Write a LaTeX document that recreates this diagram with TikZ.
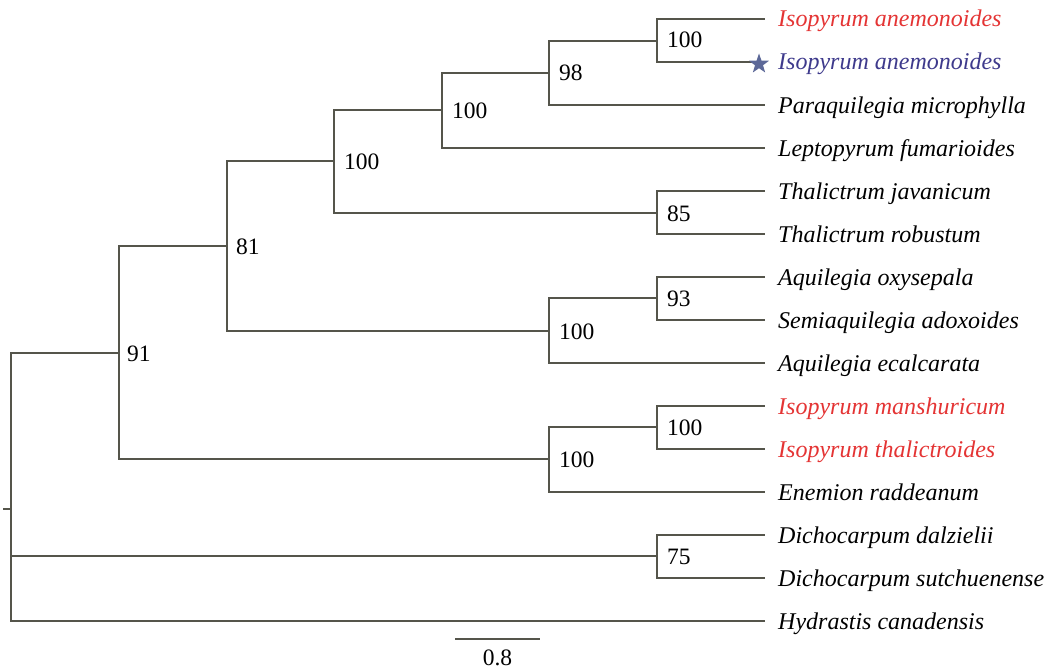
\documentclass[tikz,border=0pt]{standalone}
\usepackage{fontspec}
\setmainfont{Liberation Serif}
\usetikzlibrary{shapes.geometric}
\definecolor{treeline}{RGB}{85,85,75}
\definecolor{isored}{RGB}{228,52,52}
\definecolor{isoblue}{RGB}{62,58,140}
\definecolor{starblue}{RGB}{92,104,152}
\begin{document}
\begin{tikzpicture}[x=1pt,y=-1pt,
  branch/.style={draw=treeline,line width=1.1pt},
  taxon/.style={anchor=base west,inner sep=0pt,font=\fontsize{24}{28}\selectfont\itshape},
  boot/.style={anchor=base west,inner sep=0pt,font=\fontsize{23.5}{28}\selectfont}]
\useasboundingbox (0,0) rectangle (1048,669);
% internal nodes
\coordinate (stub) at (3,509);
\coordinate (root) at (11,509);
\coordinate (n91) at (119,353);
\coordinate (n81) at (227,246);
\coordinate (n100a) at (334,161);
\coordinate (n100b) at (442,110);
\coordinate (n98) at (549,73);
\coordinate (n100c) at (657,41);
\coordinate (n85) at (657,213);
\coordinate (n100d) at (549,331);
\coordinate (n93) at (657,298);
\coordinate (n100e) at (549,459);
\coordinate (n100f) at (657,427);
\coordinate (n75) at (657,556);
% leaves
\coordinate (l1) at (765,19);
\coordinate (l2) at (765,62);
\coordinate (l3) at (765,105);
\coordinate (l4) at (765,148);
\coordinate (l5) at (765,191);
\coordinate (l6) at (765,234);
\coordinate (l7) at (765,277);
\coordinate (l8) at (765,320);
\coordinate (l9) at (765,363);
\coordinate (l10) at (765,406);
\coordinate (l11) at (765,449);
\coordinate (l12) at (765,492);
\coordinate (l13) at (765,535);
\coordinate (l14) at (765,578);
\coordinate (l15) at (765,621);
% branches
\draw[branch] (stub) -- (root);
\draw[branch] (root) |- (n91);
\draw[branch] (root) |- (n75);
\draw[branch] (root) |- (l15);
\draw[branch] (n91) |- (n81);
\draw[branch] (n91) |- (n100e);
\draw[branch] (n81) |- (n100a);
\draw[branch] (n81) |- (n100d);
\draw[branch] (n100a) |- (n100b);
\draw[branch] (n100a) |- (n85);
\draw[branch] (n100b) |- (n98);
\draw[branch] (n100b) |- (l4);
\draw[branch] (n98) |- (n100c);
\draw[branch] (n98) |- (l3);
\draw[branch] (n100c) |- (l1);
\draw[branch] (n100c) |- (l2);
\draw[branch] (n85) |- (l5);
\draw[branch] (n85) |- (l6);
\draw[branch] (n100d) |- (n93);
\draw[branch] (n100d) |- (l9);
\draw[branch] (n93) |- (l7);
\draw[branch] (n93) |- (l8);
\draw[branch] (n100e) |- (n100f);
\draw[branch] (n100e) |- (l12);
\draw[branch] (n100f) |- (l10);
\draw[branch] (n100f) |- (l11);
\draw[branch] (n75) |- (l13);
\draw[branch] (n75) |- (l14);
% star
\node[star,star points=5,star point ratio=2.5,fill=starblue,inner sep=0pt,minimum size=21pt] (star) at (759,64) {};
% taxon labels
\node[taxon,text=isored] (t1) at (778,27) {Isopyrum anemonoides};
\node[taxon,text=isoblue] (t2) at (778,70) {Isopyrum anemonoides};
\node[taxon] (t3) at (778,113) {Paraquilegia microphylla};
\node[taxon] (t4) at (778,156) {Leptopyrum fumarioides};
\node[taxon] (t5) at (778,199) {Thalictrum javanicum};
\node[taxon] (t6) at (778,242) {Thalictrum robustum};
\node[taxon] (t7) at (778,285) {Aquilegia oxysepala};
\node[taxon] (t8) at (778,328) {Semiaquilegia adoxoides};
\node[taxon] (t9) at (778,371) {Aquilegia ecalcarata};
\node[taxon,text=isored] (t10) at (778,414) {Isopyrum manshuricum};
\node[taxon,text=isored] (t11) at (778,457) {Isopyrum thalictroides};
\node[taxon] (t12) at (778,500) {Enemion raddeanum};
\node[taxon] (t13) at (778,543) {Dichocarpum dalzielii};
\node[taxon] (t14) at (778,586) {Dichocarpum sutchuenense};
\node[taxon] (t15) at (778,629) {Hydrastis canadensis};
% bootstrap values
\node[boot] (b91) at (127,361) {91};
\node[boot] (b81) at (236,254) {81};
\node[boot] (b100a) at (344,169) {100};
\node[boot] (b100b) at (452,118) {100};
\node[boot] (b98) at (559,81) {98};
\node[boot] (b100c) at (667,48) {100};
\node[boot] (b85) at (667,221) {85};
\node[boot] (b100d) at (559,339) {100};
\node[boot] (b93) at (667,306) {93};
\node[boot] (b100e) at (559,467) {100};
\node[boot] (b100f) at (667,435) {100};
\node[boot] (b75) at (667,564) {75};
% scale bar
\coordinate (sb1) at (455,639);
\coordinate (sb2) at (540,639);
\draw[branch] (sb1) -- (sb2);
\node[anchor=base,inner sep=0pt,font=\fontsize{23.5}{28}\selectfont] (sbl) at (497.5,665) {0.8};
\end{tikzpicture}
\end{document}
